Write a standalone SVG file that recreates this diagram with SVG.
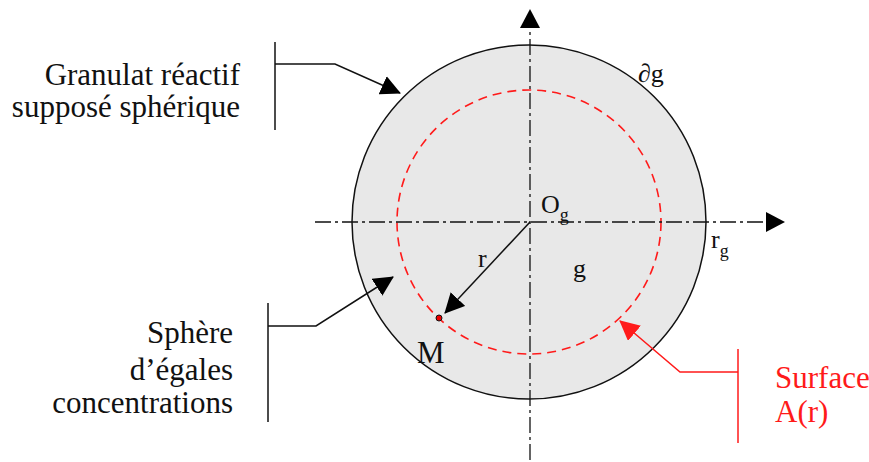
<svg xmlns="http://www.w3.org/2000/svg" width="869" height="462" viewBox="0 0 869 462">
<style>
text{font-family:"Liberation Serif","Times New Roman",serif;font-size:31px;fill:#111}
.m{font-size:26px}
.red{fill:#ff1a1a}
.axis{stroke:#111;stroke-width:1.3;fill:none;stroke-dasharray:16 4 3 4}
.lead{stroke:#111;stroke-width:1.5;fill:none}
.leadr{stroke:#ff1a1a;stroke-width:1.5;fill:none}
</style>
<defs>
<marker id="ahl" markerWidth="20" markerHeight="20" refX="19" refY="10" orient="auto" markerUnits="userSpaceOnUse"><path d="M0,0 L20,10 L0,20 z" fill="#000"/></marker>
<marker id="ahr" markerWidth="20" markerHeight="20" refX="19" refY="10" orient="auto" markerUnits="userSpaceOnUse"><path d="M0,0 L20,10 L0,20 z" fill="#ff1a1a"/></marker>
</defs>
<g id="granule">
<circle cx="529" cy="222" r="177" fill="#e8e8e8" stroke="#111" stroke-width="1.5"/>
<circle cx="529" cy="222" r="132" fill="none" stroke="#ff1a1a" stroke-width="1.6" stroke-dasharray="9 6"/>
</g>
<g id="axes">
<line class="axis" x1="530" y1="460" x2="530" y2="28"/>
<path d="M530,9 L540,28 L520,28 z" fill="#000"/>
<line class="axis" x1="315" y1="222" x2="766" y2="222"/>
<path d="M785,222 L766,212 L766,232 z" fill="#000"/>
</g>
<g id="connectors">
<line x1="530" y1="222" x2="445" y2="313" stroke="#111" stroke-width="1.5" marker-end="url(#ahl)"/>
<polyline class="lead" points="275,64 335,64 400,93" marker-end="url(#ahl)"/>
<polyline class="lead" points="268,326 316,326 393,277" marker-end="url(#ahl)"/>
<polyline class="leadr" points="738,372 680,372 620,321" marker-end="url(#ahr)"/>
</g>
<g id="M"><circle cx="439" cy="318" r="3" fill="#e00" stroke="#111" stroke-width="1"/><text x="417" y="363">M</text></g>
<g id="labels">
<text class="m" x="541" y="213">O<tspan font-size="18" dy="8">g</tspan></text>
<text class="m" x="573" y="277">g</text>
<text class="m" x="478" y="267">r</text>
<text class="m" x="638" y="82">∂g</text>
<text class="m" x="711" y="248">r<tspan font-size="18" dy="9">g</tspan></text>
</g>
<g id="label-granulat">
<line class="lead" x1="275" y1="42" x2="275" y2="130"/>
<text x="240" y="85" text-anchor="end">Granulat réactif</text>
<text x="240" y="117" text-anchor="end">supposé sphérique</text>
</g>
<g id="label-sphere">
<line class="lead" x1="268" y1="303" x2="268" y2="422"/>
<text x="233" y="343" text-anchor="end">Sphère</text>
<text x="233" y="380" text-anchor="end">d’égales</text>
<text x="233" y="413" text-anchor="end">concentrations</text>
</g>
<g id="label-surface">
<line class="leadr" x1="738" y1="349" x2="738" y2="443"/>
<text class="red" x="775" y="388">Surface</text>
<text class="red" x="775" y="422">A(r)</text>
</g>
</svg>
